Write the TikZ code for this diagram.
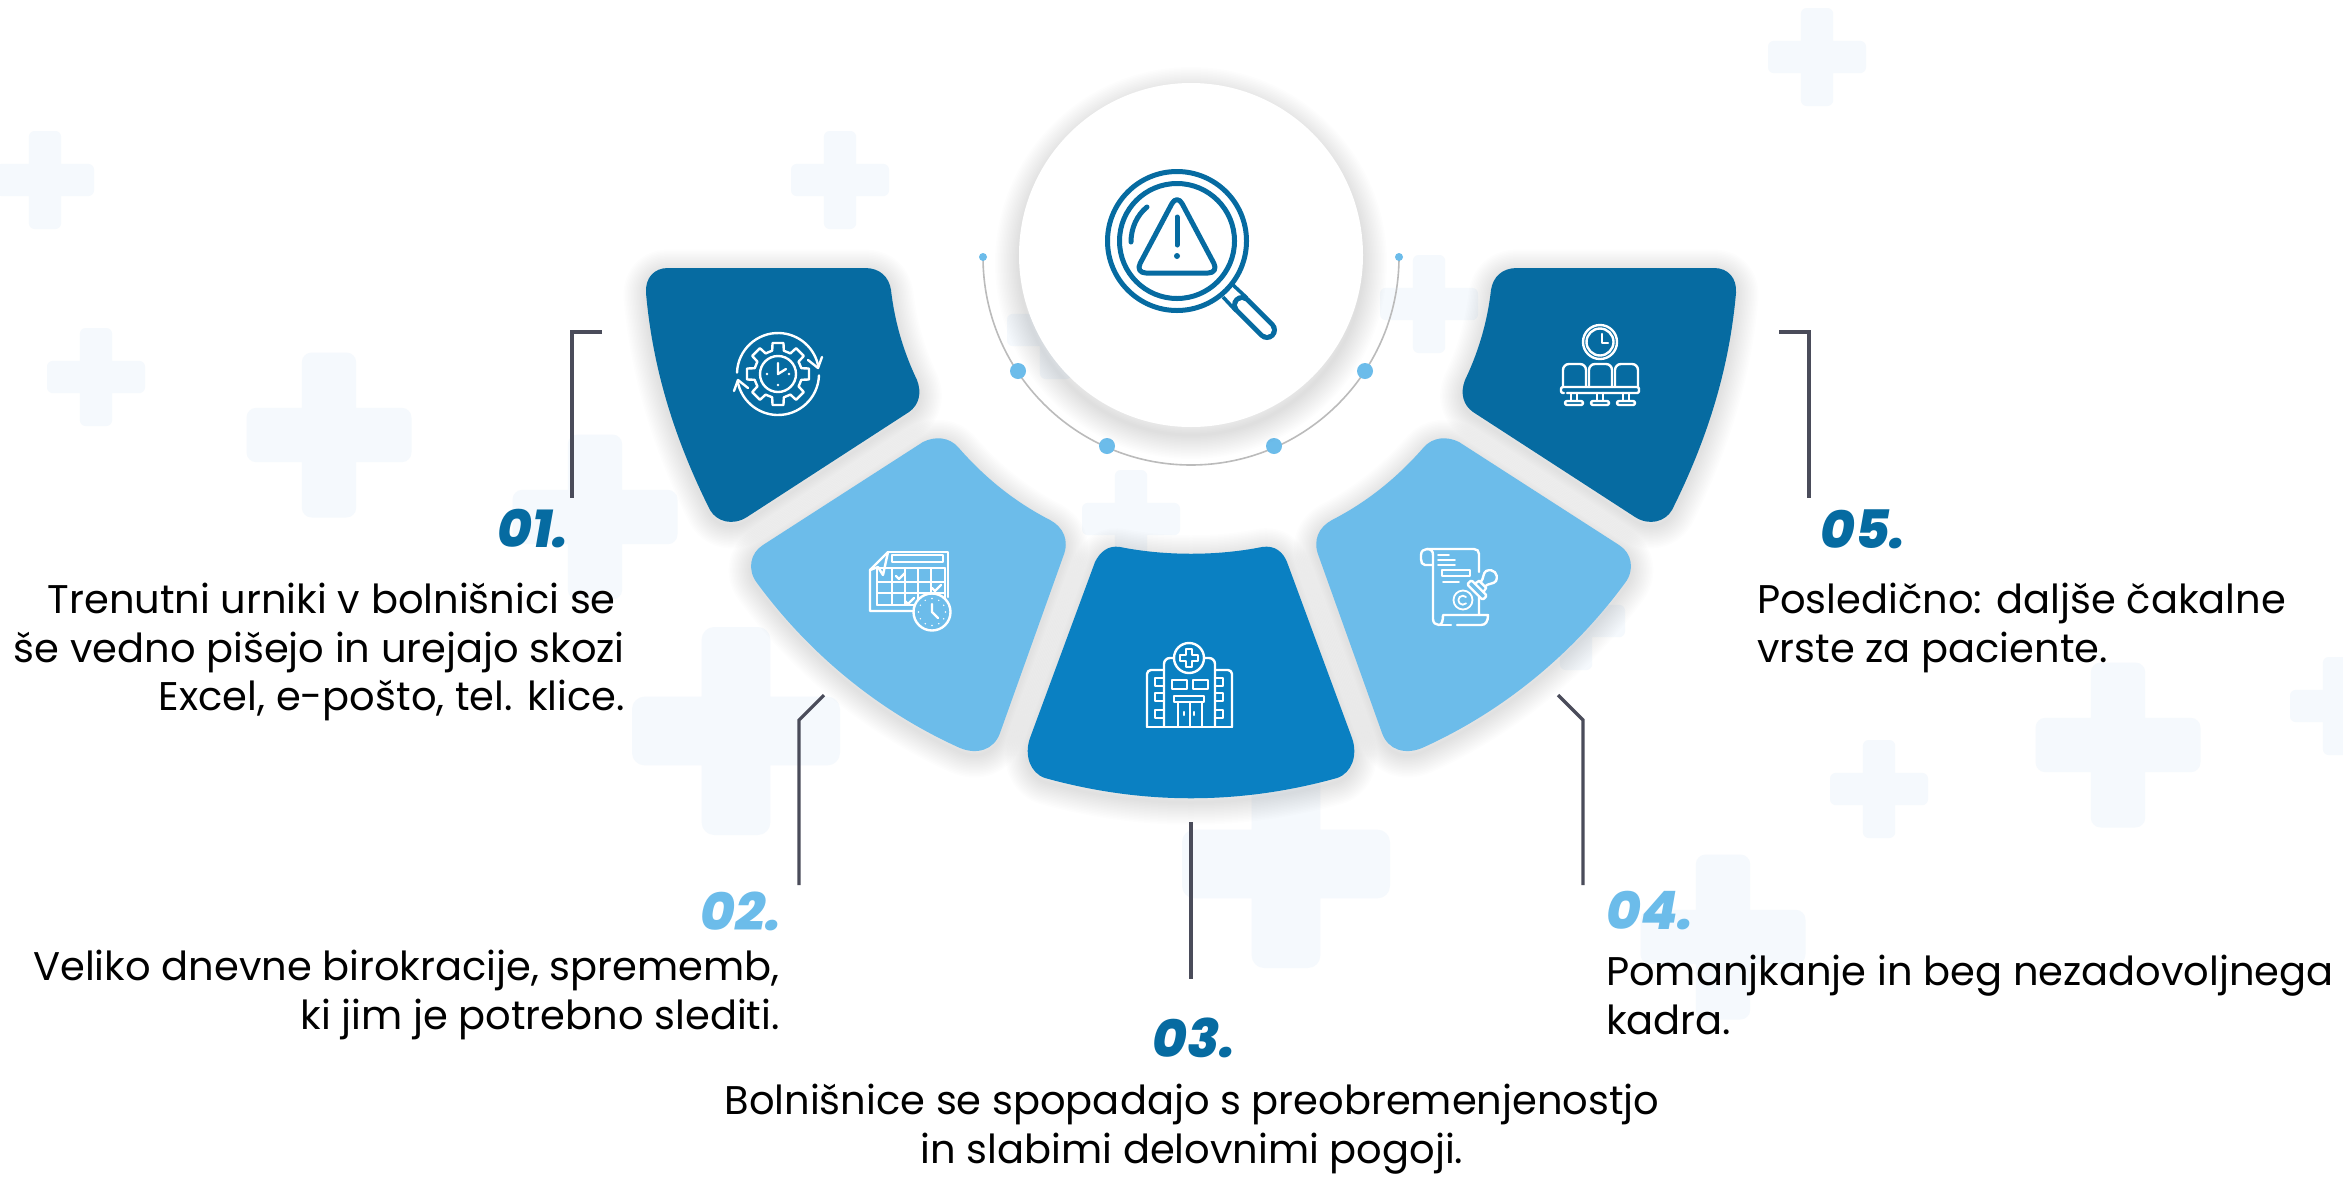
\documentclass[tikz,border=0pt]{standalone}
\usepackage{fontspec}
\setmainfont{Poppins}
\newfontfamily\numfont{Poppins ExtraBold Italic}
\definecolor{deep}{HTML}{066BA1}
\definecolor{mid}{HTML}{0A80C2}
\definecolor{sky}{HTML}{6CBCEA}
\definecolor{crossbg}{HTML}{F5F9FD}
\definecolor{leader}{HTML}{4A4C5A}
\definecolor{arcgrey}{HTML}{BBBBBB}
\tikzset{
  body/.style={font=\fontsize{40}{48.7}\selectfont,inner sep=0pt,text=black},
  numeral/.style={font=\fontsize{53}{53}\numfont,inner sep=0pt},
  leaderline/.style={draw=leader,line width=3.2pt,line join=miter},
  ico/.style={draw=white,line width=2.4pt,line cap=round,line join=round},
  icob/.style={draw=deep,line width=5pt,line cap=round,line join=round},
}
\newcommand{\plusbg}[3]{% x y size
  \fill[crossbg,rounded corners=0.06*#3 pt] ({#1-0.5*#3},{#2-0.165*#3}) rectangle ({#1+0.5*#3},{#2+0.165*#3});
  \fill[crossbg,rounded corners=0.06*#3 pt] ({#1-0.165*#3},{#2-0.5*#3}) rectangle ({#1+0.165*#3},{#2+0.5*#3});
}
\newcommand{\softshadow}[1]{%
  \foreach \w in {3,6,...,45}{\draw[draw=black,opacity=0.0065,line width=\w pt,line join=round,yshift=-4pt] #1;}%
}
\def\shapeA{(668,268) -- (865,268) .. controls (880,268) and (889,277) .. (891,290) .. controls (895,325) and (905,355) .. (917,380) .. controls (922,393) and (919,405) .. (909,412) -- (747,517) .. controls (733,526) and (717,522) .. (710,510) .. controls (670,430) and (652,360) .. (646,293) .. controls (645,278) and (654,268) .. (668,268) -- cycle}
\def\shapeB{(763,545) -- (923,442) .. controls (935,436) and (949,437) .. (958,447) .. controls (985,478) and (1015,502) .. (1050,520) .. controls (1063,527) and (1070,540) .. (1063,557) -- (1000,733) .. controls (994,750) and (977,755) .. (960,748) .. controls (880,712) and (810,655) .. (757,583) .. controls (747,570) and (750,553) .. (763,545) -- cycle}
\def\shapeC{(1095,562) .. controls (1100,552) and (1108,545) .. (1120,547) .. controls (1165,556) and (1217,556) .. (1262,547) .. controls (1275,545) and (1283,552) .. (1287,562) -- (1352,738) .. controls (1358,755) and (1352,773) .. (1337,778) .. controls (1240,805) and (1142,805) .. (1045,778) .. controls (1030,773) and (1024,755) .. (1030,738) -- cycle}
\begin{document}
\begin{tikzpicture}[x=1pt,y=-1pt]
\clip (0,0) rectangle (2343,1176);
\fill[white] (0,0) rectangle (2343,1176);
% background crosses
\plusbg{1817}{57}{98}
\plusbg{45}{180}{98}
\plusbg{840}{180}{98}
\plusbg{96}{377}{98}
\plusbg{329}{435}{165}
\plusbg{595}{517}{165}
\plusbg{1056}{330}{98}
\plusbg{1131}{519}{98}
\plusbg{1429}{304}{98}
\plusbg{1576}{621}{98}
\plusbg{736}{731}{208}
\plusbg{1286}{864}{208}
\plusbg{2118}{745}{165}
\plusbg{1879}{789}{98}
\plusbg{2339}{706}{98}
\plusbg{1723}{937}{165}
% arc and dots
\coordinate (arcL) at (983,257);
\coordinate (arcR) at (1399,257);
\draw[arcgrey,line width=1.6pt] (arcL) arc[start angle=180,end angle=360,radius=208pt];
\fill[sky] (arcL) circle[radius=4pt];
\fill[sky] (arcR) circle[radius=4pt];
\fill[sky] (1018,371) circle[radius=8pt];
\fill[sky] (1107,446) circle[radius=8pt];
\fill[sky] (1274,446) circle[radius=8pt];
\fill[sky] (1365,371) circle[radius=8pt];
% centre disc
\foreach \w in {3,6,...,48}{\draw[draw=black,opacity=0.009,line width=\w pt] (1191,263) circle[radius=172pt];}
\node[circle,fill=white,minimum size=344pt,inner sep=0pt] (disc) at (1191,255) {};
% sectors
\softshadow{\shapeA}
\fill[deep] \shapeA;
\softshadow{\shapeB}
\fill[sky] \shapeB;
\softshadow{\shapeC}
\fill[mid] \shapeC;
\begin{scope}[shift={(2382,0)},xscale=-1]
\softshadow{\shapeA}
\fill[deep] \shapeA;
\softshadow{\shapeB}
\fill[sky] \shapeB;
\end{scope}
% magnifier
\draw[deep,line width=5pt] (1177,241) circle[radius=69.5pt];
\draw[deep,line width=5pt] (1177,241) circle[radius=57.5pt];
\draw[icob,rounded corners=11pt] (1177,194) -- (1219,273) -- (1135,273) -- cycle;
\draw[icob] (1177,217) -- (1177,245);
\fill[deep] (1177,256) circle[radius=3pt];
\draw[icob] (1147,207) .. controls (1137,215) and (1131,228) .. (1131,242);
\draw[deep,line width=3.5pt,line join=round] (1223,297) -- (1236,311);
\draw[deep,line width=3.5pt,line join=round] (1233,285) -- (1247,298);
\draw[line cap=round,deep,line width=5pt,double=white,double distance=10pt] (1242,305) -- (1267,330);
% gear icon
\begin{scope}[shift={(778,374)}]
  \foreach \a in {0,45,...,315}{
    \draw[ico] ({\a-30}:24pt) -- ({\a-14}:24pt) -- ({\a-10}:31.5pt) -- ({\a+10}:31.5pt) -- ({\a+14}:24pt);
  }
  \draw[ico] (0,0) circle[radius=18pt];
  \draw[ico] (0,-11) -- (0,0) -- (8,-5);
  \fill[white] (-11,0) circle[radius=1.3pt] (11,0) circle[radius=1.3pt] (0,11) circle[radius=1.3pt];
  \draw[ico] (178:41pt) arc[start angle=178,end angle=10,radius=41pt];
  \draw[ico] (-2:41pt) arc[start angle=-2,end angle=-170,radius=41pt];
  \draw[ico] (30,-14) -- (40,-6) -- (44,-17);
  \draw[ico] (-30,14) -- (-40,6) -- (-44,17);
\end{scope}
% calendar icon
\begin{scope}
  \draw[ico] (888,552) -- (948,552) -- (948,597);
  \draw[ico] (888,552) -- (870,570) -- (870,611) -- (914,611);
  \draw[ico] (888,552) -- (883,575) -- (878,567) -- (870,570);
  \draw[ico,line width=1.8pt] (892,555) rectangle (943,562);
  \foreach \x in {877,892,905,918,931,945}{\draw[ico,line width=1.8pt] (\x,568) -- (\x,605);}
  \foreach \y in {568,582,593,605}{\draw[ico,line width=1.8pt] (877,\y) -- (945,\y);}
  \draw[ico] (896,576) -- (899,579) -- (905,573);
  \draw[ico] (932,588) -- (935,591) -- (941,585);
  \draw[ico] (905,601) -- (908,604) -- (914,598);
  \draw[ico,fill=sky,line width=2.4pt] (932,612) circle[radius=18.5pt];
  \draw[ico] (932,604) -- (932,612) -- (938,618);
  \foreach \a in {0,30,...,330}{\fill[white] (932,612) ++(\a:13.5pt) circle[radius=0.8pt];}
\end{scope}
% hospital icon
\begin{scope}
  \draw[ico] (1147,727) -- (1232,727);
  \draw[ico,rounded corners=4pt] (1147,727) -- (1147,670) -- (1164,670);
  \draw[ico,rounded corners=4pt] (1232,727) -- (1232,670) -- (1215,670);
  \draw[ico,rounded corners=6pt] (1164,727) -- (1164,658) -- (1174,658);
  \draw[ico,rounded corners=6pt] (1215,727) -- (1215,658) -- (1204,658);
  \draw[ico,fill=mid] (1189,658) circle[radius=15pt];
  \draw[ico] (1186,649) -- (1192,649) -- (1192,655) -- (1198,655) -- (1198,661) -- (1192,661) -- (1192,667) -- (1186,667) -- (1186,661) -- (1180,661) -- (1180,655) -- (1186,655) -- cycle;
  \foreach \y in {678,693,710}{
    \draw[ico] (1164,\y) -- (1155,\y) -- (1155,\y+8) -- (1164,\y+8);
    \draw[ico] (1215,\y) -- (1223,\y) -- (1223,\y+8) -- (1215,\y+8);
  }
  \draw[ico] (1172,680) rectangle (1187,689);
  \draw[ico] (1193,680) rectangle (1208,689);
  \draw[ico] (1174,696) rectangle (1204,702);
  \draw[ico] (1178,702) -- (1178,727);
  \draw[ico] (1202,702) -- (1202,727);
  \draw[ico] (1190,702) -- (1190,727);
  \draw[ico] (1184,712) -- (1184,715);
  \draw[ico] (1194,712) -- (1194,715);
\end{scope}
% contract icon
\begin{scope}
  \draw[ico] (1433,565) -- (1425,565) .. controls (1422,565) and (1421,562) .. (1421,559) -- (1421,555) .. controls (1421,551) and (1424,549) .. (1427,549) -- (1474,549) .. controls (1477,549) and (1479,551) .. (1479,554) -- (1479,572);
  \draw[ico] (1427,549) .. controls (1431,549) and (1433,551) .. (1433,555) -- (1433,619) .. controls (1433,623) and (1436,625) .. (1439,625) .. controls (1442,625) and (1443,620) .. (1443,615) -- (1479,615);
  \draw[ico] (1479,597) -- (1479,615) -- (1488,615) .. controls (1488,621) and (1486,625) .. (1481,625) -- (1457,625);
  \draw[ico] (1439,625) -- (1451,625);
  \draw[ico,line width=1.8pt] (1438,555) -- (1449,555);
  \draw[ico,line width=1.8pt] (1438,560) -- (1455,560);
  \draw[ico,line width=1.8pt] (1438,565) -- (1455,565);
  \draw[ico,line width=1.8pt] (1442,570) rectangle (1470,576);
  \draw[ico,line width=1.8pt] (1443,582) -- (1459,582);
  \draw[ico,line width=1.8pt] (1463,600) circle[radius=9.5pt];
  \draw[ico,line width=1.8pt] (1466,597) arc[start angle=45,end angle=315,radius=4.5pt];
  \begin{scope}[shift={(1477,590)},rotate=45]
    \draw[ico,fill=sky,rounded corners=1.5pt] (-3,-11) rectangle (3,11);
    \draw[ico] (3,-6) -- (8,-5) -- (8,5) -- (3,6);
    \draw[ico] (8,-3) .. controls (13,-3) and (16,-8) .. (20,-7) .. controls (27,-4) and (27,4) .. (20,7) .. controls (16,8) and (13,3) .. (8,3);
  \end{scope}
\end{scope}
% seats icon
\begin{scope}
  \draw[ico] (1600,342) circle[radius=17pt];
  \draw[ico] (1600,342) circle[radius=13.5pt];
  \draw[ico] (1602,334) -- (1602,343) -- (1608,343);
  \foreach \x in {1563,1589,1615}{
    \draw[ico,rounded corners=6pt] (\x,387) -- (\x,364) -- (\x+23,364) -- (\x+23,387);
  }
  \draw[ico,rounded corners=2pt] (1564,393) -- (1561,393) -- (1561,387) -- (1639,387) -- (1639,393) -- (1567,393);
  \foreach \x in {1574,1600,1626}{
    \draw[ico] (\x-3,393) -- (\x-3,401);
    \draw[ico] (\x+3,393) -- (\x+3,401);
    \draw[ico,rounded corners=2pt] (\x-9,401) rectangle (\x+9,405);
  }
\end{scope}
% leaders
\coordinate (l1a) at (602,332); \coordinate (l1b) at (572,332); \coordinate (l1c) at (572,498);
\coordinate (l2a) at (824,695); \coordinate (l2b) at (799,720); \coordinate (l2c) at (799,885);
\coordinate (l3a) at (1191,822); \coordinate (l3c) at (1191,979);
\coordinate (l4a) at (1558,695); \coordinate (l4b) at (1583,720); \coordinate (l4c) at (1583,885);
\coordinate (l5a) at (1779,332); \coordinate (l5b) at (1809,332); \coordinate (l5c) at (1809,498);
\draw[leaderline] (l1a) -- (l1b) -- (l1c);
\draw[leaderline] (l2a) -- (l2b) -- (l2c);
\draw[leaderline] (l3a) -- (l3c);
\draw[leaderline] (l4a) -- (l4b) -- (l4c);
\draw[leaderline] (l5a) -- (l5b) -- (l5c);
% numerals
\node[numeral,text=deep,anchor=east] (n1) at (569,529) {01.};
\node[numeral,text=sky,anchor=east] (n2) at (782,911) {02.};
\node[numeral,text=deep] (n3) at (1194,1038) {03.};
\node[numeral,text=sky,anchor=west] (n4) at (1606,911) {04.};
\node[numeral,text=deep,anchor=west] (n5) at (1820,529) {05.};
% texts
\node[body,align=right,anchor=east] (t1) at (625,652) {Trenutni urniki v bolnišnici se\hspace*{9pt}\\še vedno pišejo in urejajo skozi\\Excel, e-pošto, tel. klice.};
\node[body,align=right,anchor=east] (t2) at (780,995) {Veliko dnevne birokracije, sprememb,\\ki jim je potrebno slediti.};
\node[body,align=center] (t3) at (1192,1129) {Bolnišnice se spopadajo s preobremenjenostjo\\in slabimi delovnimi pogoji.};
\node[body,align=left,anchor=west] (t4) at (1606,995) {Pomanjkanje in beg nezadovoljnega\\kadra.};
\node[body,align=left,anchor=west] (t5) at (1757,628) {Posledično: daljše čakalne\\vrste za paciente.};
\end{tikzpicture}
\end{document}
